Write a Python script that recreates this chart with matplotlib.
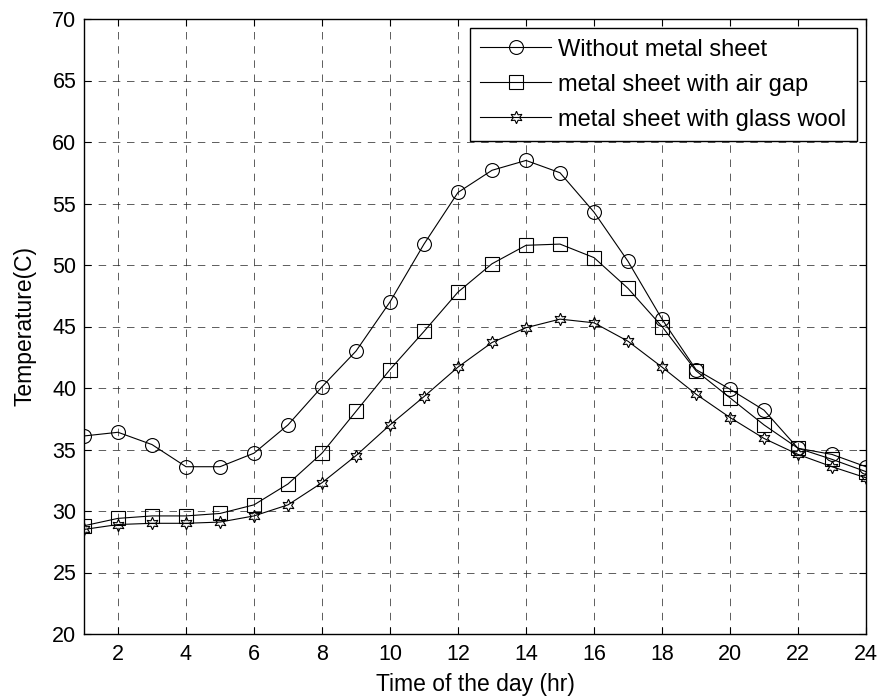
import matplotlib
matplotlib.use("Agg")
import matplotlib.pyplot as plt
import numpy as np

plt.rcParams['font.family'] = ['Liberation Sans', 'DejaVu Sans']

hours = list(range(1, 25))
without_sheet = [36.1, 36.4, 35.4, 33.6, 33.6, 34.7, 37.0, 40.1, 43.0, 47.0, 51.7, 55.9,
                 57.7, 58.5, 57.5, 54.3, 50.3, 45.6, 41.5, 39.9, 38.2, 35.1, 34.6, 33.6]
air_gap = [28.8, 29.4, 29.6, 29.6, 29.8, 30.5, 32.2, 34.7, 38.1, 41.5, 44.6, 47.8,
           50.1, 51.6, 51.7, 50.6, 48.1, 45.0, 41.4, 39.2, 37.0, 35.1, 34.2, 33.2]
glass_wool = [28.5, 28.9, 29.0, 29.0, 29.1, 29.6, 30.5, 32.3, 34.5, 37.0, 39.3, 41.7,
              43.7, 44.9, 45.6, 45.3, 43.8, 41.7, 39.5, 37.6, 35.9, 34.6, 33.6, 32.7]
labels = ["Without metal sheet", "metal sheet with air gap", "metal sheet with glass wool"]
xticks = [2, 4, 6, 8, 10, 12, 14, 16, 18, 20, 22, 24]
yticks = [20, 25, 30, 35, 40, 45, 50, 55, 60, 65, 70]

fig = plt.figure(figsize=(8.79, 7.0), dpi=100)
ax = fig.add_axes([84/879, (700-634)/700, (866-84)/879, (634-19)/700])

ax.plot(hours, without_sheet, '-', color='black', lw=0.8, marker='o', ms=10,
        mfc='none', mec='black', mew=0.8, label=labels[0])
ax.plot(hours, air_gap, '-', color='black', lw=0.8, marker='s', ms=10.5,
        mfc='none', mec='black', mew=0.8, label=labels[1])
ax.plot(hours, glass_wool, '-', color='black', lw=0.8, marker=(6, 1, 0), ms=9,
        mfc='none', mec='black', mew=0.8, label=labels[2])

ax.set_xlim(1, 24)
ax.set_ylim(20, 70)
ax.set_xticks(xticks)
ax.set_yticks(yticks)
ax.grid(True, color='#222222', linestyle=(0, (9, 8)), linewidth=0.6, alpha=0.85)
ax.tick_params(direction='in', length=5, width=0.8, labelsize=15.5, top=True, right=True)
ax.tick_params(axis='x', pad=7)
ax.tick_params(axis='y', pad=5.5)
for s in ax.spines.values():
    s.set_linewidth(1.0)
ax.set_xlabel("Time of the day (hr)", fontsize=16.5, labelpad=6)
ax.set_ylabel("Temperature(C)", fontsize=16.5, labelpad=11)

leg = ax.legend(loc='upper right', fontsize=17, fancybox=False, framealpha=1,
                edgecolor='black', handlelength=3.0, borderaxespad=0.38,
                borderpad=0.45, labelspacing=0.55, handletextpad=0.3)
leg.get_frame().set_linewidth(1.0)

fig.savefig("out.png", dpi=100)
